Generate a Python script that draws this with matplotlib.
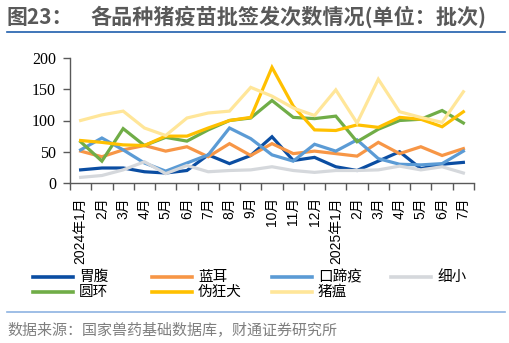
import matplotlib
matplotlib.use("Agg")
import matplotlib.pyplot as plt
from matplotlib.lines import Line2D
import numpy as np

plt.rcParams['font.family'] = ['Noto Sans CJK SC', 'DejaVu Sans']

# months 2024-01 .. 2025-07
months = ['2024年1月', '2月', '3月', '4月', '5月', '6月', '7月', '8月', '9月',
          '10月', '11月', '12月', '2025年1月', '2月', '3月', '4月', '5月', '6月', '7月']

weifu = [21, 24, 24, 18, 16, 20, 45, 31, 44, 74, 36, 41, 26, 20, 35, 50, 23, 30, 33]
lanner = [51, 42, 53, 60, 51, 58, 42, 63, 44, 63, 47, 51, 47, 43, 65, 47, 58, 44, 55]
kouti = [53, 72, 53, 32, 19, 32, 45, 88, 71, 45, 35, 62, 51, 69, 39, 30, 29, 31, 51]
xixiao = [9, 12, 21, 34, 15, 28, 18, 20, 21, 26, 20, 17, 20, 20, 21, 27, 21, 26, 16]
yuanhuan = [66, 35, 87, 60, 73, 67, 85, 100, 104, 132, 105, 103, 107, 66, 86, 100, 102, 116, 96]
weikuang = [68, 65, 61, 60, 75, 75, 88, 100, 105, 185, 123, 85, 84, 93, 89, 105, 102, 90, 114]
zhuwen = [100, 109, 115, 88, 76, 104, 112, 115, 153, 139, 120, 108, 149, 96, 166, 114, 105, 97, 146]

series = [
    ('胃腹', weifu, '#0A4DA2'),
    ('蓝耳', lanner, '#F79646'),
    ('口蹄疫', kouti, '#5B9BD5'),
    ('细小', xixiao, '#D5D8DC'),
    ('圆环', yuanhuan, '#70AD47'),
    ('伪狂犬', weikuang, '#FFC000'),
    ('猪瘟', zhuwen, '#FFE699'),
]

W, H = 510, 343
fig = plt.figure(figsize=(W / 100, H / 100), dpi=100)

def fx(px):
    return px / W

def fy(py):
    return 1 - py / H

ax = fig.add_axes([fx(70), fy(183), fx(474) - fx(70), fy(58) - fy(183)])

x = np.arange(len(months))
for name, vals, col in series:
    ax.plot(x, vals, color=col, lw=2.3, label=name, solid_joinstyle='miter')

ax.set_xlim(-0.5, len(months) - 0.5)
ax.set_ylim(0, 200)
ax.set_yticks([0, 50, 100, 150, 200])
for lab in ax.get_yticklabels():
    lab.set_family(['Liberation Serif', 'DejaVu Serif'])
    lab.set_fontsize(11.5)
ax.tick_params(axis='y', length=5, width=1, color='#595959', pad=5, labelcolor='#000000')

ax.set_xticks(x)
ax.set_xticklabels(months, rotation=90, va='top', ha='center',
                   family=['Liberation Sans', 'Noto Sans CJK SC'], fontsize=10)
ax.tick_params(axis='x', length=0, pad=10)
ax.set_xticks(np.arange(len(months) + 1) - 0.5, minor=True)
ax.tick_params(axis='x', which='minor', length=5, width=1, color='#595959')

for s in ['top', 'right']:
    ax.spines[s].set_visible(False)
for s in ['left', 'bottom']:
    ax.spines[s].set_color('#595959')
    ax.spines[s].set_linewidth(1)

# legend laid out like the original grid (4 columns, 2 rows)
col_x = [33, 152, 272, 391]
row_y = [277, 292]
for k, (name, vals, col) in enumerate(series):
    r, c = divmod(k, 4)
    x0 = col_x[c]
    y0 = row_y[r]
    fig.add_artist(Line2D([fx(x0), fx(x0 + 40)], [fy(y0), fy(y0)], color=col, lw=2.6,
                          transform=fig.transFigure))
    fig.text(fx(x0 + 46), fy(y0), name, fontsize=10.5,
             va='center', ha='left', color='#000000')

# title
fig.text(fx(7), fy(17), '图23：', fontsize=15, fontweight='bold', color='#595959',
         va='center', ha='left')
fig.text(fx(90), fy(17), '各品种猪疫苗批签发次数情况(单位：批次)', fontsize=15.2,
         fontweight='bold', color='#595959', va='center', ha='left')
fig.add_artist(Line2D([fx(7), fx(505)], [fy(32), fy(32)], color='#1F5FAD', lw=1.2,
                      transform=fig.transFigure))

# source
fig.add_artist(Line2D([fx(7), fx(505)], [fy(312), fy(312)], color='#8DB3E2', lw=1.2,
                      transform=fig.transFigure))
fig.text(fx(7), fy(330), '数据来源：国家兽药基础数据库，财通证券研究所', fontsize=10.8,
         color='#7F7F7F', va='center', ha='left')

fig.savefig('out.png', dpi=100)
